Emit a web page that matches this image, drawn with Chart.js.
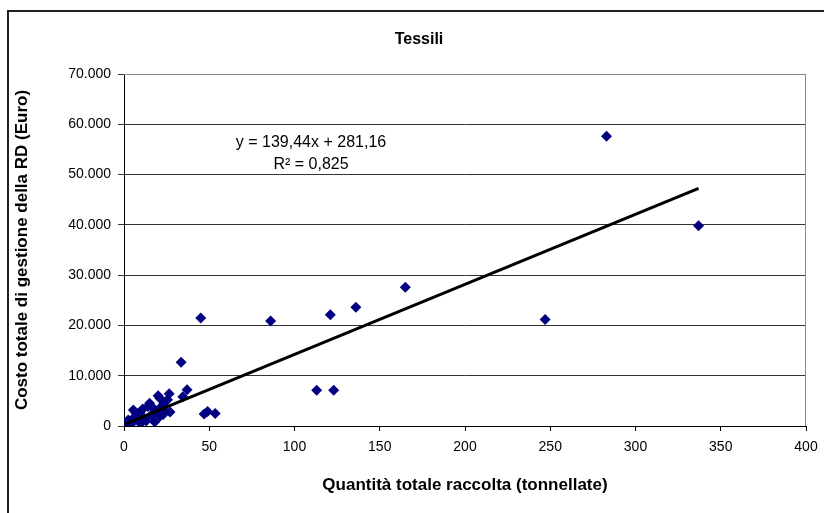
<!DOCTYPE html>
<html>
<head>
<meta charset="utf-8">
<script src="https://cdn.jsdelivr.net/npm/chart.js@4/dist/chart.umd.min.js"></script>
<style>
  body { margin: 0; background: #fff; }
  #wrap { position: relative; width: 824px; height: 513px; }
  #frame { position: absolute; left: 7px; top: 10px; width: 830px; height: 520px;
           border-left: 2px solid #222; border-top: 2px solid #222; pointer-events: none; }
  canvas { position: absolute; left: 0; top: 0; }
</style>
</head>
<body>
<div id="wrap">
  <canvas id="myChart" width="824" height="513"></canvas>
  <div id="frame"></div>
</div>
<script>
// Quantità totale raccolta (tonnellate)
const qty = [283, 337, 247, 165, 136, 121, 86, 45, 33.5, 113, 123,
  53.5, 47, 49, 37, 34.5, 26.5, 20, 21, 25.5, 23.5, 22, 15, 14,
  27, 23, 19, 21, 16, 18, 12, 9.5, 5.5, 6.5, 8.5, 4.5, 2.5, 0.5,
  1, 3, 10, 13, 7, 11, 17, 24];
// Costo totale di gestione della RD (Euro)
const cost = [57600, 39800, 21200, 27600, 23600, 22100, 20900, 21500, 12700, 7100, 7100,
  2500, 2400, 2900, 7200, 5800, 6400, 6000, 5500, 5200, 4500, 3900, 4500, 3900,
  2800, 2300, 2800, 1900, 2200, 800, 1500, 2800, 3200, 1900, 900, 500, 1200, 200,
  600, 300, 600, 1000, 2600, 3400, 3600, 3000];

const slope = 139.44;
const intercept = 281.16;
const chartTitle = 'Tessili';
const eqText = 'y = 139,44x + 281,16';
const r2Text = 'R\u00b2 = 0,825';

const yTicks = [0, 10000, 20000, 30000, 40000, 50000, 60000, 70000];
const xTicks = [0, 50, 100, 150, 200, 250, 300, 350, 400];

const FONT = '"Liberation Sans", Arial, sans-serif';

function fmtIt(v) {
  return String(v).replace(/\B(?=(\d{3})+(?!\d))/g, '.');
}

const points = qty.map((q, i) => ({ x: q, y: cost[i] }));
const xMin = Math.min(...qty), xMax = Math.max(...qty);
const trend = [
  { x: xMin, y: slope * xMin + intercept },
  { x: xMax, y: slope * xMax + intercept }
];

// grey top/right plot border, title and trendline label
const plotFrame = {
  id: 'plotFrame',
  beforeDatasetsDraw(chart) {
    const a = chart.chartArea, ctx = chart.ctx;
    ctx.save();
    ctx.strokeStyle = '#888';
    ctx.lineWidth = 1;
    ctx.beginPath();
    ctx.moveTo(a.left, a.top + 0.5);
    ctx.lineTo(a.right - 0.5, a.top + 0.5);
    ctx.lineTo(a.right - 0.5, a.bottom);
    ctx.stroke();
    ctx.restore();
  },
  afterDraw(chart) {
    const ctx = chart.ctx;
    ctx.save();
    ctx.fillStyle = '#000';
    ctx.textAlign = 'center';
    ctx.textBaseline = 'middle';
    ctx.font = 'bold 16px ' + FONT;
    ctx.fillText(chartTitle, 419, 40);
    ctx.font = '16px ' + FONT;
    ctx.fillText(eqText, 311, 143);
    ctx.fillText(r2Text, 311, 165);
    ctx.restore();
  }
};

const ctx = document.getElementById('myChart').getContext('2d');
const myChart = new Chart(ctx, {
  type: 'scatter',
  data: {
    datasets: [
      {
        label: 'Tessili',
        data: points,
        pointStyle: 'rectRot',
        pointRadius: 5.5,
        backgroundColor: '#000080',
        borderColor: '#000080',
        borderWidth: 0,
        order: 2
      },
      {
        type: 'line',
        label: 'Lineare',
        data: trend,
        borderColor: '#000',
        borderWidth: 3,
        pointRadius: 0,
        fill: false,
        order: 1
      }
    ]
  },
  options: {
    responsive: false,
    animation: false,
    layout: { padding: { left: 12, right: 18, top: 74, bottom: 17 } },
    plugins: {
      legend: { display: false },
      tooltip: { enabled: false },
      title: { display: false }
    },
    scales: {
      x: {
        type: 'linear',
        min: 0, max: 400,
        afterBuildTicks(scale) { scale.ticks = xTicks.map(v => ({ value: v })); },
        afterFit(scale) {
          scale.height = 70;
          scale.paddingLeft = 0;
          scale.paddingRight = 0;
        },
        ticks: {
          color: '#000',
          font: { family: FONT, size: 14 },
          padding: 8,
          maxRotation: 0
        },
        grid: { drawOnChartArea: false, color: '#000', tickLength: 5 },
        border: { color: '#000', width: 1 },
        title: {
          display: true,
          text: 'Quantità totale raccolta (tonnellate)',
          color: '#000',
          font: { family: FONT, size: 17, weight: 'bold' },
          padding: { top: 10, bottom: 0 }
        }
      },
      y: {
        min: 0, max: 70000,
        afterBuildTicks(scale) { scale.ticks = yTicks.map(v => ({ value: v })); },
        afterFit(scale) { scale.width = 112; },
        ticks: {
          color: '#000',
          font: { family: FONT, size: 14 },
          padding: 7,
          callback: v => fmtIt(v)
        },
        grid: { color: '#333', tickLength: 6 },
        border: { color: '#000', width: 1 },
        title: {
          display: true,
          text: 'Costo totale di gestione della RD (Euro)',
          color: '#000',
          font: { family: FONT, size: 17, weight: 'bold' },
          padding: { top: 0, bottom: 4 }
        }
      }
    }
  },
  plugins: [plotFrame]
});
</script>
</body>
</html>
